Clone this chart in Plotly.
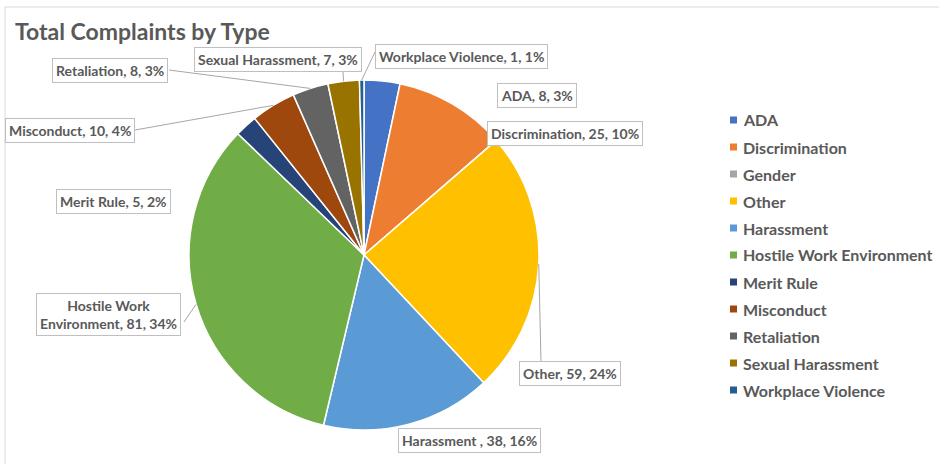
import math
import plotly.graph_objects as go

# ---------------- data ----------------
categories = ["ADA", "Discrimination", "Gender", "Other", "Harassment ",
              "Hostile Work Environment", "Merit Rule", "Misconduct",
              "Retaliation", "Sexual Harassment", "Workplace Violence"]
counts = [8, 25, 0, 59, 38, 81, 5, 10, 8, 7, 1]
percent_shown = [3, 10, 0, 24, 16, 34, 2, 4, 3, 3, 1]
colors = ["#4472C4", "#ED7D31", "#A5A5A5", "#FFC000", "#5B9BD5", "#70AD47",
          "#264478", "#9E480E", "#636363", "#997300", "#255E91"]

# ---------------- layout constants (styles) ----------------
W, H = 939, 464
CX, CY, R = 364, 255, 175
TXT = "#595959"
FONT = "Lato"

# label box centre (px) and leader-line start at box (px) or None
label_style = {
    "ADA": (537, 96, None),
    "Discrimination": (565, 134, None),
    "Other": (570, 373, (541, 362)),
    "Harassment ": (469, 440, None),
    "Hostile Work Environment": (108, 314, (184, 322)),
    "Merit Rule": (113, 202, None),
    "Misconduct": (70, 130, (135, 130)),
    "Retaliation": (110, 71, (169, 70)),
    "Sexual Harassment": (278, 60, (343, 72)),
    "Workplace Violence": (461, 56, (375, 52)),
}
wrap = {"Hostile Work Environment": "Hostile Work<br>Environment"}


def px(x):
    return x / W


def py(y):
    return 1 - y / H


fig = go.Figure()
fig.add_trace(go.Pie(
    labels=categories, values=counts, sort=False, direction="clockwise",
    rotation=0, textinfo="none", hoverinfo="label+value+percent",
    marker=dict(colors=colors, line=dict(color="white", width=1.5)),
    domain=dict(x=[px(CX - R), px(CX + R)], y=[py(CY + R), py(CY - R)]),
    showlegend=False,
))

shapes = []
annotations = []
total = sum(counts)
cum = 0
for cat, v, p in zip(categories, counts, percent_shown):
    mid = cum + v / 2
    cum += v
    if v == 0 or cat not in label_style:
        continue
    th = 2 * math.pi * mid / total
    tipx = CX + R * math.sin(th)
    tipy = CY - R * math.cos(th)
    lx, ly, anchor = label_style[cat]
    name = wrap.get(cat, cat)
    annotations.append(dict(
        x=px(lx), y=py(ly), xref="paper", yref="paper", showarrow=False,
        text=f"{name}, {v}, {p}%", align="center",
        font=dict(family=FONT, size=14, color=TXT, weight="bold"),
        bgcolor="white", bordercolor="#BFBFBF", borderwidth=1, borderpad=3,
        xanchor="center", yanchor="middle",
    ))
    if anchor is not None:
        shapes.append(dict(type="line", xref="paper", yref="paper",
                           x0=px(anchor[0]), y0=py(anchor[1]),
                           x1=px(tipx), y1=py(tipy),
                           line=dict(color="#A6A6A6", width=1)))

# manual legend
LEG_X, LEG_Y0, LEG_DY, SQ = 730, 120, 27, 7
for i, (cat, c) in enumerate(zip(categories, colors)):
    yc = LEG_Y0 + i * LEG_DY
    shapes.append(dict(type="rect", xref="paper", yref="paper",
                       x0=px(LEG_X), x1=px(LEG_X + SQ),
                       y0=py(yc - SQ / 2), y1=py(yc + SQ / 2),
                       fillcolor=c, line=dict(width=0)))
    annotations.append(dict(
        x=px(LEG_X + 11), y=py(yc), xref="paper", yref="paper",
        showarrow=False, text=cat.strip(), xanchor="left", yanchor="middle",
        font=dict(family=FONT, size=16, color=TXT, weight="bold"),
    ))

# chart border
shapes.append(dict(type="rect", xref="paper", yref="paper",
                   x0=px(5), y0=py(H + 5), x1=px(W + 5), y1=py(7),
                   line=dict(color="#D9D9D9", width=1), layer="below"))

fig.update_layout(
    width=W, height=H, margin=dict(l=0, r=0, t=0, b=0),
    paper_bgcolor="white", plot_bgcolor="white",
    title=dict(text="Total Complaints by Type", x=px(15), xanchor="left",
               y=py(32), yanchor="middle",
               font=dict(family=FONT, size=23, color=TXT, weight="bold")),
    shapes=shapes, annotations=annotations,
)

fig.write_html("out.html", config={"displayModeBar": False},
               post_script="document.body.style.margin='0';"
                           "document.body.style.padding='0';"
                           "document.body.style.overflow='hidden';")
